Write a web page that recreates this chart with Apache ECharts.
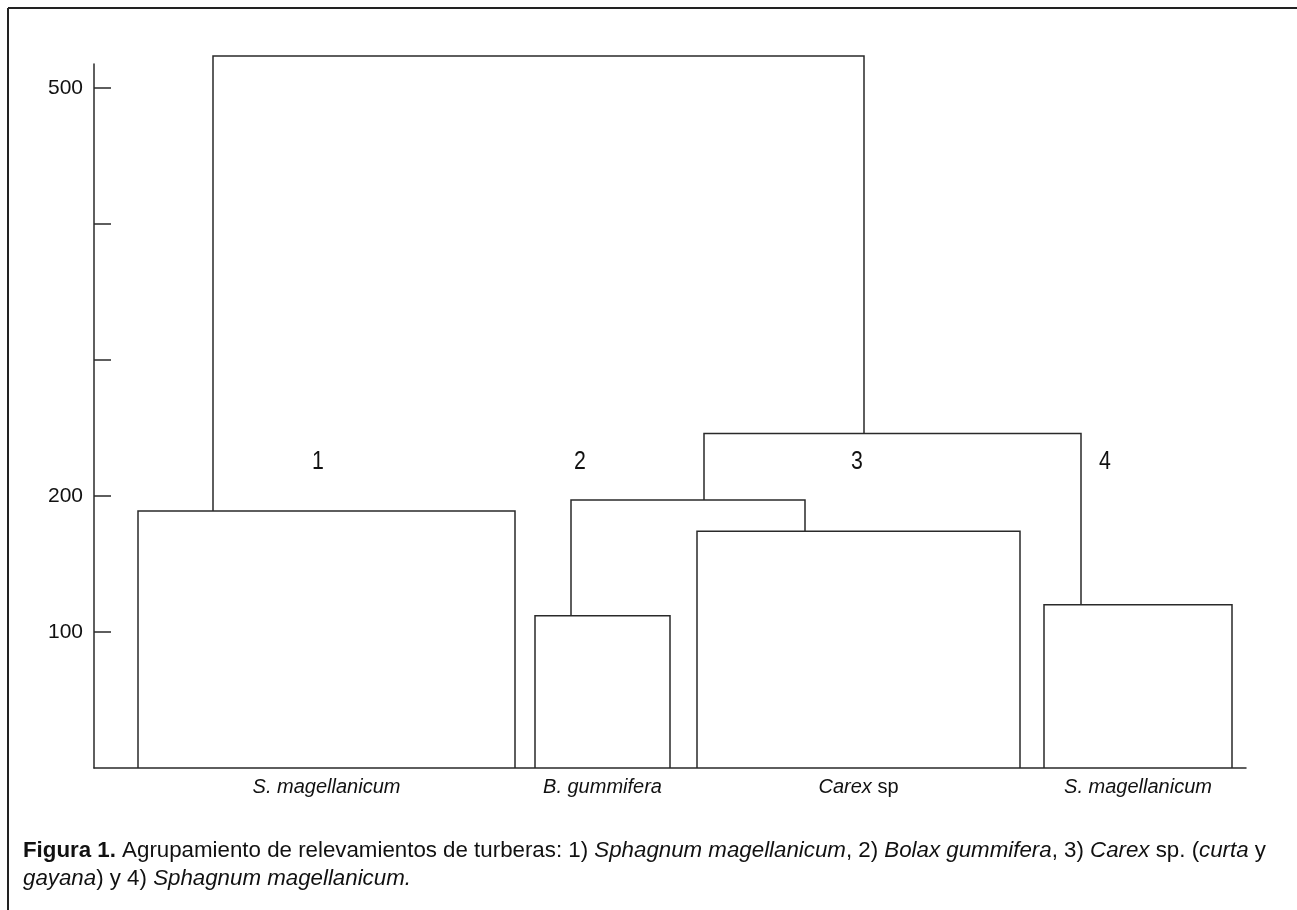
<!DOCTYPE html>
<html>
<head>
<meta charset="utf-8">
<script src="https://cdn.jsdelivr.net/npm/echarts@6/dist/echarts.min.js"></script>
<style>
  html, body { margin: 0; padding: 0; background: #fff; }
  #chart { width: 1297px; height: 910px; }
</style>
</head>
<body>
<div id="chart"></div>
<script>
// ---------------- data ----------------
// leaf clusters (boxes) : x extent on the dendrogram axis, height (distance)
const categories   = ['S. magellanicum', 'B. gummifera', 'Carex sp', 'S. magellanicum'];
const clusterNames = ['1', '2', '3', '4'];
const leafLeft     = [44, 441, 603, 950];
const leafRight    = [421, 576, 926, 1138];
const leafHeight   = [189, 112, 174, 120];

// merges: stem x of left/right child, height each stem starts at, merge height
const mergeLeftX     = [477, 610, 119];
const mergeRightX    = [711, 987, 770];
const mergeLeftFrom  = [112, 197, 189];
const mergeRightFrom = [174, 120, 246];
const mergeHeight    = [197, 246, 523.5];

// cluster number labels (data coordinates)
const clusterLabelX = [224, 486, 763, 1011];
const clusterLabelY = [225, 225, 225, 225];

// y axis ticks / labels
const yTicks  = [100, 200, 300, 400, 500];
const yLabels = [100, 200, 500];

const caption = '{b|Figura 1.} Agrupamiento de relevamientos de turberas: 1) {i|Sphagnum magellanicum}, 2) {i|Bolax gummifera}, 3) {i|Carex} sp. ({i|curta} y\n{i|gayana}) y 4) {i|Sphagnum magellanicum.}';

// ---------------- font detection ----------------
function hasFont(f) {
  const c = document.createElement('canvas').getContext('2d');
  const s = 'abcdefghijklmnopqrstuvwxyz0123456789';
  c.font = '40px monospace';
  const a = c.measureText(s).width;
  c.font = "40px '" + f + "', monospace";
  return c.measureText(s).width !== a;
}
const NARROW = hasFont('Liberation Sans Narrow');
const FN = NARROW ? "'Liberation Sans Narrow', 'Liberation Sans', Arial, sans-serif" : "'Liberation Sans', Arial, sans-serif";
const FR = "'Liberation Sans', Arial, sans-serif";
const K = NARROW ? 1 : 0.82;

// ---------------- build paths ----------------
const paths = [];
for (let i = 0; i < leafLeft.length; i++) {
  paths.push([[leafLeft[i], 0], [leafLeft[i], leafHeight[i]], [leafRight[i], leafHeight[i]], [leafRight[i], 0]]);
}
for (let i = 0; i < mergeHeight.length; i++) {
  paths.push([[mergeLeftX[i], mergeLeftFrom[i]], [mergeLeftX[i], mergeHeight[i]],
              [mergeRightX[i], mergeHeight[i]], [mergeRightX[i], mergeRightFrom[i]]]);
}
const leafCenters = leafLeft.map((l, i) => (l + leafRight[i]) / 2);

const LINE = '#2a2a2a';
const chart = echarts.init(document.getElementById('chart'), null, { renderer: 'canvas' });
chart.setOption({
  backgroundColor: '#fff',
  animation: false,
  grid: { left: 94, right: 51, top: 64, bottom: 142, containLabel: false },
  xAxis: {
    type: 'value', min: 0, max: 1152,
    splitLine: { show: false },
    axisLine: { show: true, lineStyle: { color: LINE, width: 1.5 } },
    axisTick: { show: false },
    axisLabel: {
      show: true, customValues: leafCenters, margin: 9,
      color: '#111', fontFamily: FN, fontSize: Math.round(24 * K),
      formatter: function (v) {
        const idx = leafCenters.indexOf(v);
        const name = categories[idx] || '';
        if (/ sp$/.test(name)) return '{i|' + name.slice(0, -3) + '} {n|sp}';
        return '{i|' + name + '}';
      },
      rich: {
        i: { fontStyle: 'italic', fontFamily: FN, fontSize: Math.round(24 * K), color: '#111' },
        n: { fontFamily: FN, fontSize: Math.round(24 * K), color: '#111' }
      }
    }
  },
  yAxis: {
    type: 'value', min: 0, max: 517.6,
    splitLine: { show: false },
    axisLine: { show: true, lineStyle: { color: LINE, width: 1.5 } },
    axisTick: { show: true, inside: true, length: 17, customValues: yTicks, lineStyle: { color: LINE, width: 1.5 } },
    axisLabel: { show: true, customValues: yLabels, margin: 11, color: '#111', fontFamily: FN, fontSize: Math.round(26 * K) }
  },
  series: [
    {
      type: 'custom', name: 'dendrogram', clip: false,
      coordinateSystem: 'cartesian2d',
      data: paths.map((p, i) => [p[0][0], p[0][1], i]),
      encode: { x: 0, y: 1 },
      renderItem: function (params, api) {
        const p = paths[params.dataIndex];
        return {
          type: 'polyline',
          shape: { points: p.map(pt => api.coord(pt)) },
          style: { stroke: LINE, lineWidth: 1.5, fill: null }
        };
      },
      silent: true
    },
    {
      type: 'custom', name: 'clusters', clip: false,
      coordinateSystem: 'cartesian2d',
      data: clusterNames.map((n, i) => [clusterLabelX[i], clusterLabelY[i]]),
      encode: { x: 0, y: 1 },
      renderItem: function (params, api) {
        const c = api.coord([api.value(0), api.value(1)]);
        return {
          type: 'text', x: c[0], y: c[1], scaleX: K,
          style: { text: clusterNames[params.dataIndex], fontFamily: FN, fontSize: 26, fill: '#111', align: 'center', verticalAlign: 'middle' }
        };
      },
      silent: true
    }
  ],
  graphic: [
    { type: 'line', shape: { x1: 8, y1: 8, x2: 1297, y2: 8 }, style: { stroke: '#222', lineWidth: 2 } },
    { type: 'line', shape: { x1: 8, y1: 8, x2: 8, y2: 910 }, style: { stroke: '#222', lineWidth: 2 } },
    {
      type: 'text', left: 23, top: 837,
      style: {
        text: caption, fontFamily: FR, fontSize: 22.3, lineHeight: 28, fill: '#111',
        rich: {
          b: { fontWeight: 'bold', fontFamily: FR, fontSize: 22.3, lineHeight: 28, fill: '#111' },
          i: { fontStyle: 'italic', fontFamily: FR, fontSize: 22.3, lineHeight: 28, fill: '#111' }
        }
      }
    }
  ]
});
</script>
</body>
</html>
